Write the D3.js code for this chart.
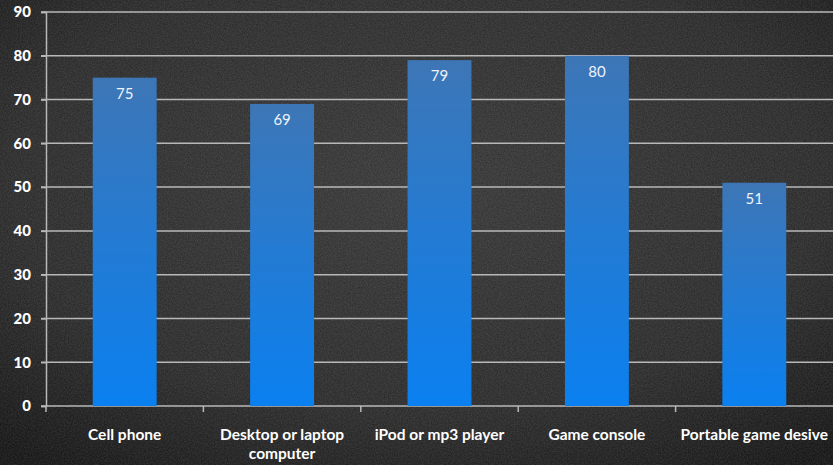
<!DOCTYPE html>
<html><head><meta charset="utf-8">
<script src="https://cdn.jsdelivr.net/npm/d3@7"></script>
<style>html,body{margin:0;padding:0;background:#222;}svg{display:block;}</style>
</head><body>
<svg id="chart" width="833" height="465"></svg>
<script>
const categories = ["Cell phone", "Desktop or laptop computer", "iPod or mp3 player", "Game console", "Portable game desive"];
const categoryLines = [["Cell phone"], ["Desktop or laptop", "computer"], ["iPod or mp3 player"], ["Game console"], ["Portable game desive"]];
const values = [75, 69, 79, 80, 51];
const yTicks = [0, 10, 20, 30, 40, 50, 60, 70, 80, 90];

const W = 833, H = 465;
const svg = d3.select("#chart");
const defs = svg.append("defs");

// background
const bg = defs.append("radialGradient").attr("id", "bg").attr("cx", "50%").attr("cy", "40%").attr("r", "75%");
bg.append("stop").attr("offset", "0%").attr("stop-color", "#353535");
bg.append("stop").attr("offset", "65%").attr("stop-color", "#282828");
bg.append("stop").attr("offset", "100%").attr("stop-color", "#121212");
const f = defs.append("filter").attr("id", "noise").attr("x", 0).attr("y", 0).attr("width", "100%").attr("height", "100%");
f.append("feTurbulence").attr("type", "fractalNoise").attr("baseFrequency", "0.7").attr("numOctaves", 3).attr("seed", 5).attr("result", "n");
f.append("feColorMatrix").attr("type", "matrix").attr("values", "0 0 0 0 1  0 0 0 0 1  0 0 0 0 1  0 0 0 0.16 -0.02");
svg.append("rect").attr("width", W).attr("height", H).attr("fill", "url(#bg)");
svg.append("rect").attr("width", W).attr("height", H).attr("filter", "url(#noise)");

const bar = defs.append("linearGradient").attr("id", "bar").attr("x1", 0).attr("y1", 0).attr("x2", 0).attr("y2", 1);
bar.append("stop").attr("offset", "0%").attr("stop-color", "#3d76b6");
bar.append("stop").attr("offset", "100%").attr("stop-color", "#0a80f0");

const x0 = 46, x1 = 833, yTop = 12, yBot = 406;
const x = d3.scaleBand().domain(categories).range([x0, x1]).padding(0);
const y = d3.scaleLinear().domain([0, 90]).range([yBot, yTop]);

// gridlines
svg.append("g").selectAll("line").data(yTicks.filter(d => d > 0)).join("line")
  .attr("x1", x0 - 5).attr("x2", W).attr("y1", d => y(d)).attr("y2", d => y(d))
  .attr("stroke", "#b8b8b8").attr("stroke-width", 1.5);

// y axis
const yAxis = svg.append("g").attr("transform", `translate(${x0},0)`)
  .call(d3.axisLeft(y).tickValues(yTicks).tickSize(5).tickPadding(10));
yAxis.select(".domain").attr("stroke", "#b8b8b8").attr("stroke-width", 1.5);
yAxis.selectAll(".tick line").attr("stroke", "#b8b8b8").attr("stroke-width", 1.5);
yAxis.selectAll(".tick text").attr("fill", "#fff").attr("font-family", "Lato, 'Open Sans', sans-serif")
  .attr("font-weight", "900").attr("font-size", 15);

// x axis
const xAxis = svg.append("g").attr("transform", `translate(0,${yBot})`)
  .call(d3.axisBottom(x).tickSize(0).tickFormat(""));
xAxis.select(".domain").attr("stroke", "#b8b8b8").attr("stroke-width", 1.5).attr("d", `M${x0 - 5},0H${W}`);
svg.append("g").selectAll("line").data(categories).join("line")
  .attr("x1", d => x(d)).attr("x2", d => x(d)).attr("y1", yBot).attr("y2", yBot + 6)
  .attr("stroke", "#b8b8b8").attr("stroke-width", 1.5);

// bars
const bw = x.bandwidth() * 0.406;
svg.append("g").selectAll("rect").data(values).join("rect")
  .attr("x", (d, i) => x(categories[i]) + x.bandwidth() / 2 - bw / 2)
  .attr("y", d => y(d)).attr("width", bw).attr("height", d => yBot - y(d))
  .attr("fill", "url(#bar)");

// value labels
svg.append("g").selectAll("text").data(values).join("text")
  .attr("x", (d, i) => x(categories[i]) + x.bandwidth() / 2)
  .attr("y", d => y(d) + 21)
  .attr("text-anchor", "middle").attr("fill", "#eef3fa")
  .attr("font-family", "Lato, 'Open Sans', sans-serif").attr("font-size", 15)
  .text(d => d);

// category labels
const cl = svg.append("g").selectAll("text").data(categories).join("text")
  .attr("x", d => x(d) + x.bandwidth() / 2).attr("y", 440)
  .attr("text-anchor", "middle").attr("fill", "#fff")
  .attr("font-family", "Lato, 'Open Sans', sans-serif").attr("font-weight", "bold").attr("font-size", 15.5);
cl.each(function (d, i) {
  const t = d3.select(this);
  categoryLines[i].forEach((line, j) => {
    t.append("tspan").attr("x", x(d) + x.bandwidth() / 2).attr("dy", j === 0 ? 0 : 19).text(line);
  });
});
</script>
</body></html>
